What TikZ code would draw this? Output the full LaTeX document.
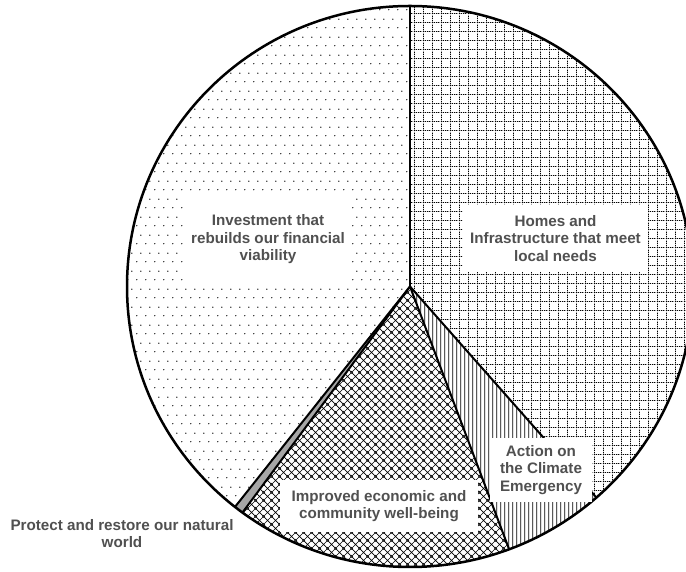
\documentclass[tikz,border=0pt]{standalone}
\usepackage{fontspec}
\setmainfont{Liberation Sans}
\usetikzlibrary{patterns}
\definecolor{txt}{HTML}{505050}
\definecolor{stripgray}{HTML}{A6A6A6}

\pgfdeclarepatternformonly{sparsedots}{\pgfpoint{0pt}{0pt}}{\pgfpoint{9pt}{18pt}}{\pgfpoint{9pt}{18pt}}{%
 \pgfpathcircle{\pgfpoint{2pt}{4.5pt}}{0.75pt}%
 \pgfpathcircle{\pgfpoint{6.5pt}{13.5pt}}{0.75pt}%
 \pgfusepath{fill}}

\pgfdeclarepatternformonly{vlines}{\pgfpoint{0pt}{0pt}}{\pgfpoint{4.2pt}{4.2pt}}{\pgfpoint{4.2pt}{4.2pt}}{%
 \pgfsetlinewidth{1.1pt}%
 \pgfpathmoveto{\pgfpoint{2.1pt}{-0.5pt}}\pgfpathlineto{\pgfpoint{2.1pt}{4.7pt}}%
 \pgfusepath{stroke}}

\pgfdeclarepatternformonly{diamonds}{\pgfpoint{0pt}{0pt}}{\pgfpoint{8pt}{8pt}}{\pgfpoint{8pt}{8pt}}{%
 \pgfsetlinewidth{0.7pt}%
 \pgfpathmoveto{\pgfpoint{-1pt}{-1pt}}\pgfpathlineto{\pgfpoint{9pt}{9pt}}%
 \pgfpathmoveto{\pgfpoint{-1pt}{9pt}}\pgfpathlineto{\pgfpoint{9pt}{-1pt}}%
 \pgfpathmoveto{\pgfpoint{-1pt}{7pt}}\pgfpathlineto{\pgfpoint{1pt}{9pt}}%
 \pgfpathmoveto{\pgfpoint{7pt}{-1pt}}\pgfpathlineto{\pgfpoint{9pt}{1pt}}%
 \pgfpathmoveto{\pgfpoint{-1pt}{1pt}}\pgfpathlineto{\pgfpoint{1pt}{-1pt}}%
 \pgfpathmoveto{\pgfpoint{7pt}{9pt}}\pgfpathlineto{\pgfpoint{9pt}{7pt}}%
 \pgfusepath{stroke}}

\pgfdeclarepatternformonly{dgrid}{\pgfpoint{0pt}{0pt}}{\pgfpoint{9pt}{9pt}}{\pgfpoint{9pt}{9pt}}{%
 \pgfsetlinewidth{0.9pt}%
 \pgfsetdash{{1.2pt}{0.9pt}}{0pt}%
 \pgfpathmoveto{\pgfpoint{0.5pt}{0pt}}\pgfpathlineto{\pgfpoint{0.5pt}{9pt}}%
 \pgfpathmoveto{\pgfpoint{0pt}{0.5pt}}\pgfpathlineto{\pgfpoint{9pt}{0.5pt}}%
 \pgfusepath{stroke}}

\begin{document}
\begin{tikzpicture}[x=1pt,y=1pt,
  lbl/.style={fill=white, text=txt, font=\bfseries\fontsize{15.2}{17.5}\selectfont, align=center, inner sep=0pt},
  sliceedge/.style={line width=2pt, black},
  rim/.style={line width=2.5pt, black}]
\useasboundingbox (0,0) rectangle (686,572);
\fill[white] (0,0) rectangle (686,572);
\begin{scope}[shift={(410,285.5)}]
 \def\RX{283}\def\RY{280.5}
 \fill[pattern=dgrid] (0,0) -- (90:\RX pt and \RY pt) arc[start angle=90, end angle=-48.8, x radius=\RX pt, y radius=\RY pt] -- cycle;
 \fill[pattern=vlines] (0,0) -- (-48.8:\RX pt and \RY pt) arc[start angle=-48.8, end angle=-69.5, x radius=\RX pt, y radius=\RY pt] -- cycle;
 \fill[pattern=diamonds] (0,0) -- (-69.5:\RX pt and \RY pt) arc[start angle=-69.5, end angle=-126.3, x radius=\RX pt, y radius=\RY pt] -- cycle;
 \fill[stripgray] (0,0) -- (-126.3:\RX pt and \RY pt) arc[start angle=-126.3, end angle=-128.2, x radius=\RX pt, y radius=\RY pt] -- cycle;
 \fill[pattern=sparsedots] (0,0) -- (-128.2:\RX pt and \RY pt) arc[start angle=-128.2, end angle=-270, x radius=\RX pt, y radius=\RY pt] -- cycle;
 \foreach \a in {90,-48.8,-69.5,-126.3,-128.2} \draw[sliceedge, line cap=round] (0,0) -- (\a:\RX pt and \RY pt);
 \draw[rim] (0,0) ellipse[x radius=\RX pt, y radius=\RY pt];
\end{scope}
\node[lbl, minimum width=168pt, minimum height=85pt] (inv) at (268,332.5) {Investment that\\rebuilds our financial\\viability};
\node[lbl, minimum width=185pt, minimum height=67pt] (homes) at (555.5,333.5) {Homes and\\Infrastructure that meet\\local needs};
\node[lbl, minimum width=102pt, minimum height=64pt] (climate) at (541,102) {Action on\\the Climate\\Emergency};
\node[lbl, minimum width=198pt, minimum height=52pt] (improved) at (379,66) {Improved economic and\\community well-being};
\node[lbl, fill=none] (protect) at (122,38.5) {Protect and restore our natural\\world};
\end{tikzpicture}
\end{document}
